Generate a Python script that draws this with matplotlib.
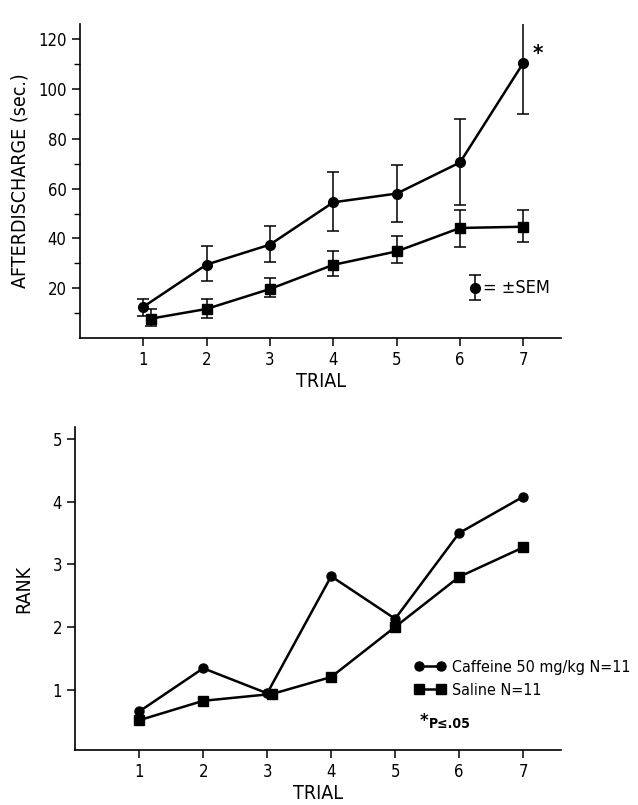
import matplotlib
matplotlib.use('Agg')
import matplotlib.pyplot as plt
from matplotlib.lines import Line2D

plt.rcParams['font.family'] = ['DejaVu Sans']
plt.rcParams['font.stretch'] = 'condensed'

trials = [1, 2, 3, 4, 5, 6, 7]

# top panel: afterdischarge duration (sec.) with +-SEM
caf_ad = [12.5, 29.5, 37.5, 54.5, 58, 70.5, 110.5]
caf_ad_hi = [15.8, 37, 45, 66.5, 69.5, 88, 132]
caf_ad_lo = [9, 23, 30.5, 43, 46.5, 53.5, 90]
sal_x = [1.12, 2, 3, 4, 5, 6, 7]
sal_ad = [7.8, 11.7, 19.7, 29.4, 34.8, 44.2, 44.7]
sal_ad_hi = [11.5, 15.5, 24, 35, 41, 51.5, 51.5]
sal_ad_lo = [5, 8, 16.5, 25, 30, 36.5, 38.5]

# bottom panel: rank
caf_rank = [0.65, 1.34, 0.94, 2.81, 2.13, 3.5, 4.08]
sal_rank_x = [1, 2, 3.08, 4, 5, 6, 7]
sal_rank = [0.51, 0.82, 0.93, 1.2, 2.0, 2.8, 3.27]

fig = plt.figure(figsize=(6.38, 8.05), dpi=100)
ax1 = fig.add_axes([0.125, 0.58, 0.755, 0.39])
ax2 = fig.add_axes([0.118, 0.068, 0.762, 0.402])

for ax in (ax1, ax2):
    ax.spines['top'].set_visible(False)
    ax.spines['right'].set_visible(False)
    ax.spines['left'].set_linewidth(1.2)
    ax.spines['bottom'].set_linewidth(1.2)
    ax.tick_params(direction='out', length=6, width=1.1, labelsize=12)
    ax.set_xticks(trials)
    ax.set_xticklabels([str(t) for t in trials])
    ax.set_xlim(0, 7.6)

# ---- top
def err(mean, hi, lo):
    return [[m - l for m, l in zip(mean, lo)], [h - m for m, h in zip(mean, hi)]]

ax1.errorbar(trials, caf_ad, yerr=err(caf_ad, caf_ad_hi, caf_ad_lo), fmt='-o', color='black',
             ms=7, lw=1.8, elinewidth=1.1, capsize=4, capthick=1.1)
ax1.errorbar(sal_x, sal_ad, yerr=err(sal_ad, sal_ad_hi, sal_ad_lo), fmt='-s', color='black',
             ms=6.5, lw=1.8, elinewidth=1.1, capsize=4, capthick=1.1)
ax1.set_ylim(0, 126)
ax1.set_yticks([20, 40, 60, 80, 100, 120])
ax1.set_yticks([10, 30, 50, 70, 90, 110], minor=True)
ax1.tick_params(axis='y', which='minor', direction='out', length=4, width=1)
ax1.set_ylabel('AFTERDISCHARGE (sec.)', fontsize=14, labelpad=6)
ax1.set_xlabel('TRIAL', fontsize=14, labelpad=2)
ax1.text(7.22, 114, '*', fontsize=16, fontweight='bold', ha='center', va='center')

# SEM key
ax1.errorbar([0.82], [0.16], yerr=[[0.04], [0.04]], transform=ax1.transAxes, fmt='o', color='black',
             ms=7, elinewidth=1.1, capsize=4, capthick=1.1)
ax1.text(0.838, 0.16, '= \u00b1SEM', transform=ax1.transAxes, fontsize=13, va='center', ha='left')

# ---- bottom
ax2.plot(trials, caf_rank, '-o', color='black', ms=6.5, lw=1.8)
ax2.plot(sal_rank_x, sal_rank, '-s', color='black', ms=6.5, lw=1.8)
ax2.set_ylim(0.03, 5.2)
ax2.set_yticks([1, 2, 3, 4, 5])
ax2.set_ylabel('RANK', fontsize=14, labelpad=14)
ax2.set_xlabel('TRIAL', fontsize=14, labelpad=2)

handles = [Line2D([0], [0], color='black', marker='o', ms=6.5, lw=1.8),
           Line2D([0], [0], color='black', marker='s', ms=6.5, lw=1.8)]
ax2.legend(handles, ['Caffeine 50 mg/kg N=11', 'Saline N=11'], loc='upper left',
           bbox_to_anchor=(0.68, 0.305), frameon=False, numpoints=2, handlelength=2.0,
           handletextpad=0.4, fontsize=11.5, labelspacing=0.5, borderpad=0)
ax2.text(0.708, 0.09, '*', transform=ax2.transAxes, fontsize=13, fontweight='bold', va='center')
ax2.text(0.728, 0.08, 'P\u2264.05', transform=ax2.transAxes, fontsize=10, fontweight='bold', va='center')

fig.savefig('out.png', dpi=100)
